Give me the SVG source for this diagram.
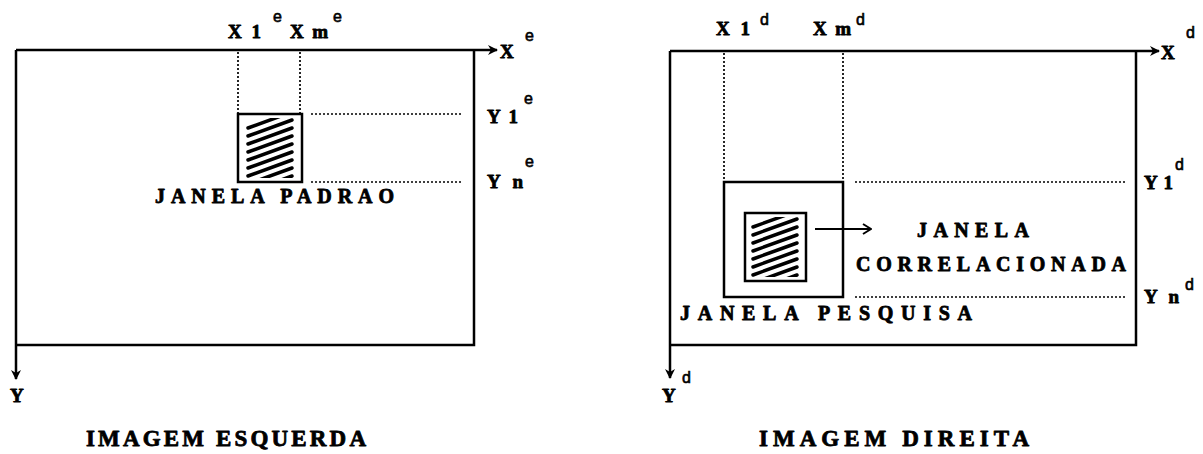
<svg xmlns="http://www.w3.org/2000/svg" width="1203" height="454" viewBox="0 0 1203 454">
<defs>
<style>
.ax{fill:none;stroke:#000;stroke-width:2.5}
.dot{fill:none;stroke:#000;stroke-width:1.7;stroke-dasharray:2 2}
.box{fill:none;stroke:#000;stroke-width:2.5}
.hatch{stroke:#000;stroke-width:3.5;stroke-linecap:round}
.t{font-family:"Liberation Serif","Times New Roman",serif;font-weight:bold;fill:#000;stroke:#000;stroke-width:0.8;stroke-linejoin:round}
.lab{font-size:20px}
.ttl{font-size:23px}
.axl{font-size:19px}
.sup{font-family:"Liberation Sans",Arial,sans-serif;font-size:16px;fill:#000;stroke:#000;stroke-width:0.6}
</style>
<marker id="ah" viewBox="0 0 10 10" refX="9" refY="5" markerWidth="10" markerHeight="10" markerUnits="userSpaceOnUse" orient="auto">
<path d="M0,0 L10,5 L0,10 L3,5 Z" fill="#000"/>
</marker>
<marker id="oh" viewBox="0 0 10 12" refX="9" refY="6" markerWidth="10" markerHeight="12" markerUnits="userSpaceOnUse" orient="auto">
<path d="M1,1 L9,6 L1,11" fill="none" stroke="#000" stroke-width="2"/>
</marker>
<clipPath id="cl"><rect x="243" y="118" width="54" height="60"/></clipPath>
<clipPath id="cr"><rect x="749" y="217" width="53" height="60"/></clipPath>
</defs>

<g id="connectors">
<path class="ax" d="M16,50 H497" marker-end="url(#ah)"/>
<path class="ax" d="M16,50 V379" marker-end="url(#ah)"/>
<path class="ax" d="M670,51 H1159" marker-end="url(#ah)"/>
<path class="ax" d="M670,51 V378" marker-end="url(#ah)"/>
<path class="dot" d="M238,52 V114 M300,52 V114 M311,114 H462 M311,182 H462"/>
<path class="dot" d="M724,53 V182 M843,53 V182 M855,182 H1125 M855,297 H1125"/>
<path d="M815,229 H871" fill="none" stroke="#000" stroke-width="2.2" marker-end="url(#oh)"/>
</g>

<g id="left-image">
<path class="ax" d="M16,345 H474 V50"/>
<text class="t axl" x="228" y="38" textLength="33" lengthAdjust="spacing">X1</text>
<text class="sup" x="273" y="22">e</text>
<text class="t axl" x="290" y="38" textLength="38" lengthAdjust="spacing">Xm</text>
<text class="sup" x="333" y="22">e</text>
<text class="t axl" x="500" y="58">X</text>
<text class="sup" x="525" y="41">e</text>
<text class="t axl" x="487" y="123" textLength="31" lengthAdjust="spacing">Y1</text>
<text class="sup" x="524" y="104">e</text>
<text class="t axl" x="487" y="188" textLength="36" lengthAdjust="spacing">Yn</text>
<text class="sup" x="525" y="167">e</text>
<text class="t axl" x="10" y="402">Y</text>
<text class="t ttl" x="86" y="446" textLength="280" lengthAdjust="spacing">IMAGEM ESQUERDA</text>
</g>

<g id="janela-padrao">
<rect class="box" x="238" y="114" width="64" height="68"/>
<g clip-path="url(#cl)" class="hatch">
<line x1="248" y1="128" x2="292" y2="112"/>
<line x1="248" y1="136" x2="292" y2="120"/>
<line x1="248" y1="144" x2="292" y2="128"/>
<line x1="248" y1="152" x2="292" y2="136"/>
<line x1="248" y1="160" x2="292" y2="144"/>
<line x1="248" y1="168" x2="292" y2="152"/>
<line x1="248" y1="176" x2="292" y2="160"/>
<line x1="248" y1="184" x2="292" y2="168"/>
<line x1="248" y1="192" x2="292" y2="176"/>
</g>
<text class="t lab" x="155" y="203" textLength="239" lengthAdjust="spacing">JANELA PADRAO</text>
</g>

<g id="right-image">
<path class="ax" d="M670,345 H1136 V51"/>
<text class="t axl" x="716" y="35" textLength="34" lengthAdjust="spacing">X1</text>
<text class="sup" x="760" y="25">d</text>
<text class="t axl" x="813" y="35" textLength="38" lengthAdjust="spacing">Xm</text>
<text class="sup" x="856" y="25">d</text>
<text class="t axl" x="1161" y="59">X</text>
<text class="sup" x="1186" y="38">d</text>
<text class="t axl" x="1144" y="189" textLength="29" lengthAdjust="spacing">Y1</text>
<text class="sup" x="1175" y="170">d</text>
<text class="t axl" x="1144" y="303" textLength="35" lengthAdjust="spacing">Yn</text>
<text class="sup" x="1185" y="290">d</text>
<text class="t axl" x="662" y="402">Y</text>
<text class="sup" x="682" y="383">d</text>
<text class="t ttl" x="759" y="446" textLength="270" lengthAdjust="spacing">IMAGEM DIREITA</text>
</g>

<g id="janela-pesquisa">
<rect class="box" x="724" y="182" width="119" height="115"/>
<text class="t lab" x="680" y="320" textLength="292" lengthAdjust="spacing">JANELA PESQUISA</text>
</g>

<g id="janela-correlacionada">
<rect class="box" x="745" y="213" width="61" height="68"/>
<g clip-path="url(#cr)" class="hatch">
<line x1="753" y1="227" x2="797" y2="211"/>
<line x1="753" y1="235" x2="797" y2="219"/>
<line x1="753" y1="243" x2="797" y2="227"/>
<line x1="753" y1="251" x2="797" y2="235"/>
<line x1="753" y1="259" x2="797" y2="243"/>
<line x1="753" y1="267" x2="797" y2="251"/>
<line x1="753" y1="275" x2="797" y2="259"/>
<line x1="753" y1="283" x2="797" y2="267"/>
<line x1="753" y1="291" x2="797" y2="275"/>
</g>
<text class="t lab" x="917" y="237" textLength="112" lengthAdjust="spacing">JANELA</text>
<text class="t lab" x="856" y="271" textLength="270" lengthAdjust="spacing">CORRELACIONADA</text>
</g>
</svg>
